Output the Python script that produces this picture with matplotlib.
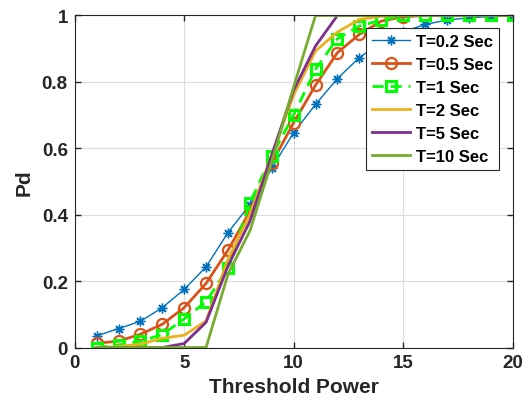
import matplotlib
matplotlib.use("Agg")
import matplotlib.pyplot as plt

x = list(range(1, 21))
pd_02 = [0.035, 0.057, 0.079, 0.12, 0.175, 0.243, 0.346, 0.43, 0.54, 0.647,
         0.732, 0.81, 0.873, 0.92, 0.95, 0.973, 0.986, 0.993, 0.997, 1.0]
pd_05 = [0.013, 0.019, 0.04, 0.07, 0.12, 0.193, 0.293, 0.41, 0.555, 0.677,
         0.79, 0.888, 0.943, 0.983, 0.996, 1.0, 1.0, 1.0, 1.0, 1.0]
pd_1 = [0.0, 0.008, 0.019, 0.039, 0.086, 0.138, 0.24, 0.435, 0.577, 0.7,
        0.838, 0.93, 0.968, 0.986, 1.0, 1.0, 1.0, 1.0, 1.0, 1.0]
pd_2 = [0.0, 0.003, 0.01, 0.028, 0.037, 0.08, 0.266, 0.40, 0.58, 0.76,
        0.893, 0.95, 0.988, 0.998, 1.0, 1.0, 1.0, 1.0, 1.0, 1.0]
pd_5 = [0.0, 0.0, 0.0, 0.0, 0.012, 0.076, 0.245, 0.38, 0.58, 0.775,
        0.908, 1.0, 1.0, 1.0, 1.0, 1.0, 1.0, 1.0, 1.0, 1.0]
pd_10 = [0.0, 0.0, 0.0, 0.0, 0.0, 0.0, 0.22, 0.351, 0.56, 0.785,
         1.0, 1.0, 1.0, 1.0, 1.0, 1.0, 1.0, 1.0, 1.0, 1.0]
labels = ["T=0.2 Sec", "T=0.5 Sec", "T=1 Sec", "T=2 Sec", "T=5 Sec", "T=10 Sec"]
xticks = [0, 5, 10, 15, 20]
yticks = [0, 0.2, 0.4, 0.6, 0.8, 1]

plt.rcParams['font.family'] = ['Liberation Sans', 'DejaVu Sans']
plt.rcParams['font.weight'] = 'bold'

fig = plt.figure(figsize=(5.24, 4.06), dpi=100)
ax = fig.add_axes([0.1426, 0.1416, 0.8355, 0.8178])

ax.plot(x, pd_02, color='#0072BD', lw=1.0, marker=(8, 2, 0), ms=7, mew=1.0, label=labels[0])
ax.plot(x, pd_05, color='#D95319', lw=2.0, marker='o', ms=8, mfc='none', mew=1.6, label=labels[1])
ax.plot(x, pd_1, color='#00FF00', lw=2.0, ls=(0, (4, 2.5)), marker='s', ms=6.5, mfc='none', mew=2.2, label=labels[2])
ax.plot(x, pd_2, color='#EDB120', lw=2.0, label=labels[3])
ax.plot(x, pd_5, color='#7E2F8E', lw=2.0, label=labels[4])
ax.plot(x, pd_10, color='#77AC30', lw=2.0, label=labels[5])

ax.set_xlim(0, 20)
ax.set_ylim(0, 1)
ax.set_xticks(xticks)
ax.set_yticks(yticks)
ax.set_yticklabels(['0', '0.2', '0.4', '0.6', '0.8', '1'])
ax.grid(True, color='#dcdcdc', lw=0.8)
ax.set_axisbelow(True)
ax.tick_params(direction='in', top=True, right=True, labelsize=13.5, length=4, width=1,
               colors='#262626', pad=5)
for lab in ax.get_xticklabels() + ax.get_yticklabels():
    lab.set_fontweight('bold')
for s in ax.spines.values():
    s.set_color('#262626')
    s.set_linewidth(0.8)

ax.set_xlabel('Threshold Power', fontsize=15, fontweight='bold', color='#262626', labelpad=4)
ax.set_ylabel('Pd', fontsize=15, fontweight='bold', color='#262626', labelpad=6)

leg = ax.legend(loc='upper right', bbox_to_anchor=(0.969, 0.962), fontsize=12,
                frameon=True, fancybox=False, edgecolor='#262626', framealpha=1,
                handlelength=2.3, borderpad=0.35, labelspacing=0.48, handletextpad=0.35,
                borderaxespad=0)
leg.get_frame().set_linewidth(0.8)
for t in leg.get_texts():
    t.set_fontweight('bold')

fig.savefig('out.png', dpi=100)
